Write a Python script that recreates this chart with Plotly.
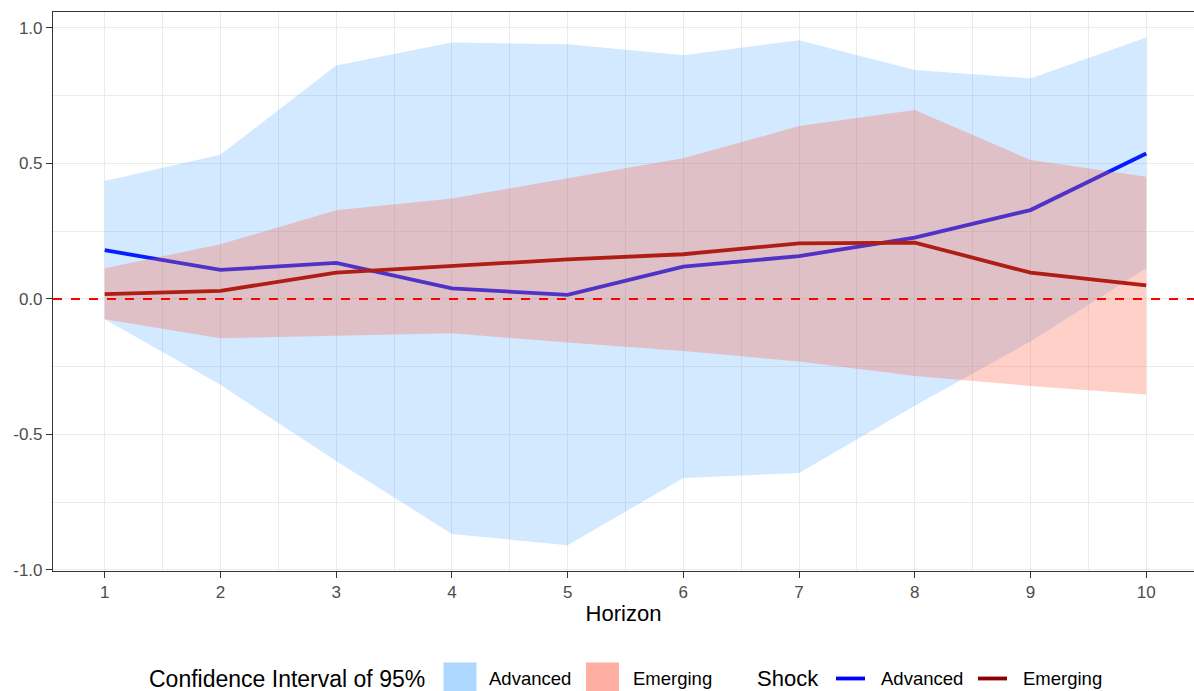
import plotly.graph_objects as go

# Impulse responses by horizon, with 95% confidence bands
horizon = [1, 2, 3, 4, 5, 6, 7, 8, 9, 10]

adv_irf = [0.180, 0.107, 0.133, 0.039, 0.015, 0.119, 0.158, 0.226, 0.328, 0.537]
emg_irf = [0.018, 0.030, 0.097, 0.122, 0.146, 0.165, 0.205, 0.208, 0.097, 0.050]

adv_upper = [0.435, 0.532, 0.862, 0.946, 0.940, 0.899, 0.955, 0.845, 0.814, 0.965]
adv_lower = [-0.075, -0.317, -0.598, -0.867, -0.909, -0.661, -0.642, -0.394, -0.157, 0.113]
emg_upper = [0.113, 0.202, 0.327, 0.371, 0.445, 0.519, 0.638, 0.697, 0.513, 0.451]
emg_lower = [-0.075, -0.145, -0.135, -0.127, -0.161, -0.192, -0.231, -0.284, -0.321, -0.353]

x_ticks = [1, 2, 3, 4, 5, 6, 7, 8, 9, 10]
x_tick_labels = ["1", "2", "3", "4", "5", "6", "7", "8", "9", "10"]
y_ticks = [-1.0, -0.5, 0.0, 0.5, 1.0]
y_tick_labels = ["-1.0", "-0.5", "0.0", "0.5", "1.0"]

groups = ["Advanced", "Emerging"]
line_colors = {"Advanced": "#0000FF", "Emerging": "#8B0000"}
band_colors = {"Advanced": "rgba(30,144,255,0.20)", "Emerging": "rgba(255,99,71,0.30)"}
key_colors = {"Advanced": "rgba(30,144,255,0.36)", "Emerging": "rgba(255,99,71,0.51)"}

FONT = "Liberation Sans, Arial, sans-serif"
W, H = 1194, 691
ML, MR, MT, MB = 53, 0, 12, 120

fig = go.Figure()

# Each group: its response line, then its translucent band laid over it
for name, irf, up, lo in zip(groups, [adv_irf, emg_irf],
                             [adv_upper, emg_upper], [adv_lower, emg_lower]):
    fig.add_trace(go.Scatter(
        x=horizon, y=irf, mode="lines", name=name,
        line=dict(color=line_colors[name], width=3.8),
        showlegend=False, hoverinfo="skip",
    ))
    fig.add_trace(go.Scatter(
        x=horizon + horizon[::-1], y=up + lo[::-1],
        mode="lines", fill="toself", fillcolor=band_colors[name],
        line=dict(width=0), name=name, showlegend=False, hoverinfo="skip",
    ))

# Zero reference
fig.add_hline(y=0, line=dict(color="#FF0000", width=2, dash="9px,9px"), layer="above")

# Legend built in pixel positions below the panel
pw, ph = W - ML - MR, H - MT - MB


def px_x(px):
    return (px - ML) / pw


def px_y(py):
    return (H - MB - py) / ph


legend_y = 678.5
shapes = []
annotations = []


def label(text, x_left, size):
    annotations.append(dict(
        text=text, x=px_x(x_left), y=px_y(legend_y), xref="paper", yref="paper",
        xanchor="left", yanchor="middle", showarrow=False, borderpad=0,
        font=dict(family=FONT, size=size, color="#000000"),
    ))


label("Confidence Interval of 95%", 148, 23)
for name, kx, tx in zip(groups, [443.5, 586], [488, 632]):
    shapes.append(dict(type="rect", xref="paper", yref="paper",
                       x0=px_x(kx), x1=px_x(kx + 33), y0=px_y(legend_y - 16), y1=px_y(legend_y + 16),
                       fillcolor=key_colors[name], line=dict(width=0), layer="above"))
    label(name, tx, 18.5)

label("Shock", 756, 22)
for name, kx, tx in zip(groups, [836, 978], [880, 1022]):
    shapes.append(dict(type="line", xref="paper", yref="paper",
                       x0=px_x(kx), x1=px_x(kx + 29), y0=px_y(legend_y), y1=px_y(legend_y),
                       line=dict(color=line_colors[name], width=3.8), layer="above"))
    label(name, tx, 18.5)

fig.update_layout(
    width=W, height=H,
    margin=dict(l=ML, r=MR, t=MT, b=MB, pad=0),
    paper_bgcolor="white", plot_bgcolor="white",
    font=dict(family=FONT, color="#000000"),
    showlegend=False,
    shapes=list(fig.layout.shapes) + shapes,
    annotations=annotations,
)

grid_major = "#EBEBEB"
fig.update_xaxes(
    range=[0.553, 10.413],
    tickmode="array", tickvals=x_ticks, ticktext=x_tick_labels,
    ticks="outside", ticklen=6, tickwidth=1.1, tickcolor="#333333",
    tickfont=dict(family=FONT, size=17, color="#4D4D4D"),
    showgrid=True, gridcolor=grid_major, gridwidth=1.1,
    minor=dict(tick0=1.5, dtick=1, showgrid=True, gridcolor=grid_major, gridwidth=0.6, ticks=""),
    zeroline=False, showline=True, linecolor="#333333", linewidth=1.1, mirror=True,
    title=dict(text="Horizon", font=dict(family=FONT, size=22, color="#000000"), standoff=4),
    automargin=False,
)
fig.update_yaxes(
    range=[-1.004, 1.059],
    tickmode="array", tickvals=y_ticks, ticktext=y_tick_labels,
    ticks="outside", ticklen=6, tickwidth=1.1, tickcolor="#333333",
    tickfont=dict(family=FONT, size=17, color="#4D4D4D"),
    showgrid=True, gridcolor=grid_major, gridwidth=1.1,
    minor=dict(tick0=0.25, dtick=0.5, showgrid=True, gridcolor=grid_major, gridwidth=0.6, ticks=""),
    zeroline=False, showline=True, linecolor="#333333", linewidth=1.1, mirror=False,
    automargin=False,
)

fig.write_html("out.html")
